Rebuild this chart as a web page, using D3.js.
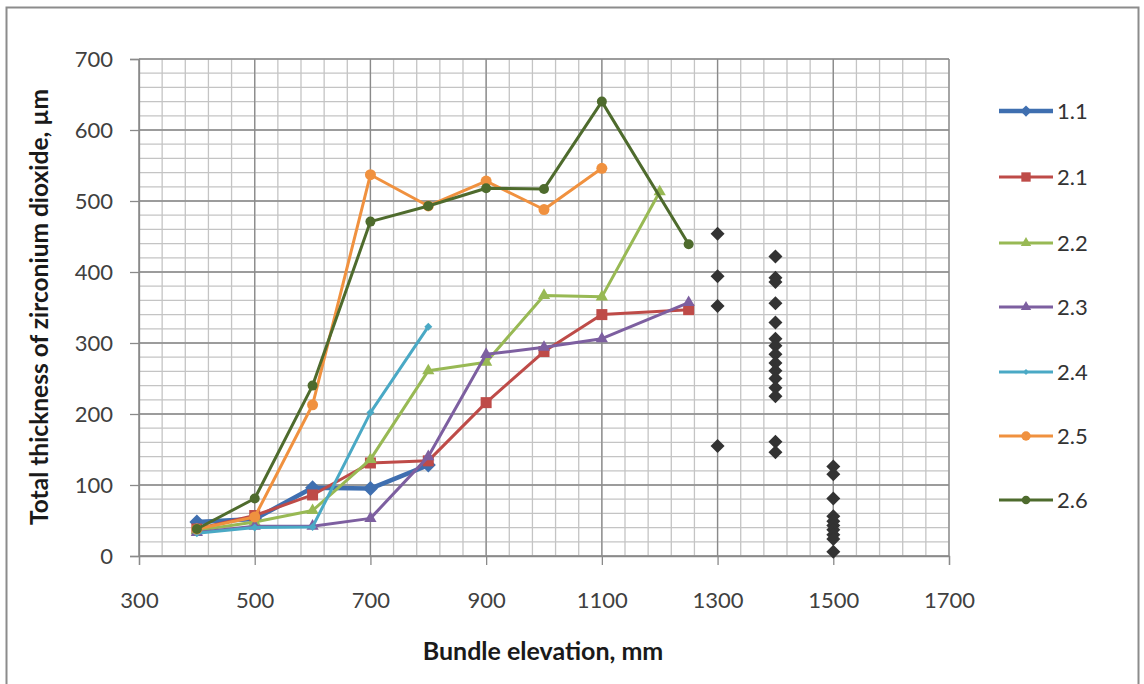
<!DOCTYPE html>
<html>
<head>
<meta charset="utf-8">
<script src="https://cdn.jsdelivr.net/npm/d3@7"></script>
<style>
  html, body { margin: 0; padding: 0; background: #fff; }
  svg { display: block; }
  text { font-family: Lato, "Open Sans", sans-serif; }
</style>
</head>
<body>
<svg id="chart" width="1144" height="684"></svg>
<script>
// Oxide thickness along the bundle, per sample group
const seriesNames = ["1.1", "2.1", "2.2", "2.3", "2.4", "2.5", "2.6"];

const elev11 = [400, 500, 600, 700, 800];
const thick11 = [48, 52, 96, 95, 128];

const elev21 = [400, 500, 600, 700, 800, 900, 1000, 1100, 1250];
const thick21 = [38, 57, 86, 131, 134, 216, 288, 340, 347];

const elev22 = [400, 500, 600, 700, 800, 900, 1000, 1100, 1200];
const thick22 = [36, 48, 64, 136, 261, 273, 367, 365, 513];

const elev23 = [400, 500, 600, 700, 800, 900, 1000, 1100, 1250];
const thick23 = [33, 42, 42, 53, 140, 284, 294, 306, 357];

const elev24 = [400, 500, 600, 700, 800];
const thick24 = [32, 40, 41, 202, 323];

const elev25 = [400, 500, 600, 700, 800, 900, 1000, 1100];
const thick25 = [38, 55, 213, 537, 493, 528, 488, 546];

const elev26 = [400, 500, 600, 700, 800, 900, 1000, 1100, 1250];
const thick26 = [38, 81, 240, 471, 493, 518, 517, 640, 439];

// Individual measurements in the upper part of the bundle
const scatterElev = [1300, 1400, 1500];
const scatter1300 = [454, 394, 352, 155];
const scatter1400 = [422, 392, 386, 356, 329, 306, 296, 284, 272, 261, 250, 237, 225, 161, 146];
const scatter1500 = [126, 115, 81, 56, 49, 43, 37, 30, 24, 6];

const xTicks = [300, 500, 700, 900, 1100, 1300, 1500, 1700];
const yTicks = [0, 100, 200, 300, 400, 500, 600, 700];

const seriesData = [
  { name: seriesNames[0], x: elev11, y: thick11, color: "#3f6fb0", width: 4.5, marker: "diamond",  size: 15 },
  { name: seriesNames[1], x: elev21, y: thick21, color: "#be4b48", width: 3,   marker: "square",   size: 11 },
  { name: seriesNames[2], x: elev22, y: thick22, color: "#98b954", width: 3,   marker: "triangle", size: 12 },
  { name: seriesNames[3], x: elev23, y: thick23, color: "#7d5fa0", width: 3,   marker: "triangle", size: 12 },
  { name: seriesNames[4], x: elev24, y: thick24, color: "#4aa9c5", width: 3,   marker: "diamond",  size: 8 },
  { name: seriesNames[5], x: elev25, y: thick25, color: "#f0913f", width: 3,   marker: "circle",   size: 11 },
  { name: seriesNames[6], x: elev26, y: thick26, color: "#4e6b2d", width: 3,   marker: "circle",   size: 10 }
];
const scatterGroups = [scatter1300, scatter1400, scatter1500];

const svg = d3.select("#chart");
const plot = { left: 139, right: 949, top: 59, bottom: 556 };

// outer frame
svg.append("rect")
  .attr("x", 6.5).attr("y", 7.5).attr("width", 1132).attr("height", 690)
  .attr("fill", "#fff").attr("stroke", "#8c8c8c").attr("stroke-width", 2);

const x = d3.scaleLinear().domain([300, 1700]).range([plot.left, plot.right]);
const y = d3.scaleLinear().domain([0, 700]).range([plot.bottom, plot.top]);

// minor grid
const g = svg.append("g");
g.selectAll("line.vminor").data(d3.range(300, 1701, 40)).join("line")
  .attr("x1", d => x(d)).attr("x2", d => x(d))
  .attr("y1", plot.top).attr("y2", plot.bottom)
  .attr("stroke", "#c4c4c4").attr("stroke-width", 1.3);
g.selectAll("line.hminor").data(d3.range(0, 701, 20)).join("line")
  .attr("x1", plot.left).attr("x2", plot.right)
  .attr("y1", d => y(d)).attr("y2", d => y(d))
  .attr("stroke", "#c4c4c4").attr("stroke-width", 1.3);
// major grid
g.selectAll("line.vmajor").data(xTicks).join("line")
  .attr("x1", d => x(d)).attr("x2", d => x(d))
  .attr("y1", plot.top).attr("y2", plot.bottom)
  .attr("stroke", "#8a8a8a").attr("stroke-width", 1.3);
g.selectAll("line.hmajor").data(yTicks).join("line")
  .attr("x1", plot.left).attr("x2", plot.right)
  .attr("y1", d => y(d)).attr("y2", d => y(d))
  .attr("stroke", "#8a8a8a").attr("stroke-width", 1.3);

// axes
const xAxis = svg.append("g").attr("transform", `translate(0,${plot.bottom})`)
  .call(d3.axisBottom(x).tickValues(xTicks).tickSize(9).tickPadding(27).tickFormat(d3.format("d")));
const yAxis = svg.append("g").attr("transform", `translate(${plot.left},0)`)
  .call(d3.axisLeft(y).tickValues(yTicks).tickSize(9).tickPadding(17).tickFormat(d3.format("d")));
[xAxis, yAxis].forEach(a => {
  a.select(".domain").attr("stroke", "#8a8a8a").attr("stroke-width", 1.3);
  a.selectAll(".tick line").attr("stroke", "#8a8a8a").attr("stroke-width", 1.3);
  a.selectAll(".tick text").attr("fill", "#404040").style("font-size", "22px")
    .style("font-family", "Lato, 'Open Sans', sans-serif");
});
yAxis.selectAll(".tick text").attr("dy", "0.36em");

// axis titles
svg.append("text")
  .attr("x", 543).attr("y", 660).attr("text-anchor", "middle")
  .style("font-size", "25px").style("font-weight", "bold").attr("fill", "#1a1a1a")
  .text("Bundle elevation, mm");
svg.append("text")
  .attr("transform", "translate(48,307) rotate(-90)").attr("text-anchor", "middle")
  .style("font-size", "24.5px").style("font-weight", "bold").attr("fill", "#1a1a1a")
  .text("Total thickness of zirconium dioxide, µm");

// marker shapes
function symbolFor(kind, size) {
  const area = {
    diamond: size * size * 0.5,
    square: size * size,
    triangle: size * size * 0.45,
    circle: Math.PI * (size / 2) * (size / 2)
  }[kind];
  const type = {
    diamond: d3.symbolSquare,
    square: d3.symbolSquare,
    triangle: d3.symbolTriangle,
    circle: d3.symbolCircle
  }[kind];
  return { path: d3.symbol().type(type).size(area)(), rotate: kind === "diamond" ? 45 : 0 };
}

const line = d3.line().x(d => x(d[0])).y(d => y(d[1]));

const seriesG = svg.append("g");
seriesData.forEach(s => {
  const pts = s.x.map((v, i) => [v, s.y[i]]);
  seriesG.append("path").datum(pts)
    .attr("d", line).attr("fill", "none")
    .attr("stroke", s.color).attr("stroke-width", s.width)
    .attr("stroke-linejoin", "round");
  const sym = symbolFor(s.marker, s.size);
  seriesG.selectAll(null).data(pts).join("path")
    .attr("d", sym.path)
    .attr("transform", d => `translate(${x(d[0])},${y(d[1])}) rotate(${sym.rotate})`)
    .attr("fill", s.color);
});

// scattered measurements
const scatterPts = [];
scatterGroups.forEach((vals, i) => vals.forEach(v => scatterPts.push([scatterElev[i], v])));
const dia = symbolFor("diamond", 14);
svg.append("g").selectAll("path").data(scatterPts).join("path")
  .attr("d", dia.path)
  .attr("transform", d => `translate(${x(d[0])},${y(d[1])}) rotate(45)`)
  .attr("fill", "#333333");

// legend
const legendY = [111, 177, 243, 307, 372, 436, 500];
const lg = svg.append("g");
seriesData.forEach((s, i) => {
  const row = lg.append("g").attr("transform", `translate(999,${legendY[i]})`);
  row.append("line").attr("x1", 0).attr("x2", 54).attr("y1", 0).attr("y2", 0)
    .attr("stroke", s.color).attr("stroke-width", s.width);
  const sym = symbolFor(s.marker, s.marker === "diamond" ? s.size * 0.75 : s.size * 0.85);
  row.append("path").attr("d", sym.path)
    .attr("transform", `translate(27,0) rotate(${sym.rotate})`).attr("fill", s.color);
  row.append("text").attr("x", 58).attr("y", 0).attr("dy", "0.36em")
    .style("font-size", "22px").attr("fill", "#333").text(s.name);
});
</script>
</body>
</html>
